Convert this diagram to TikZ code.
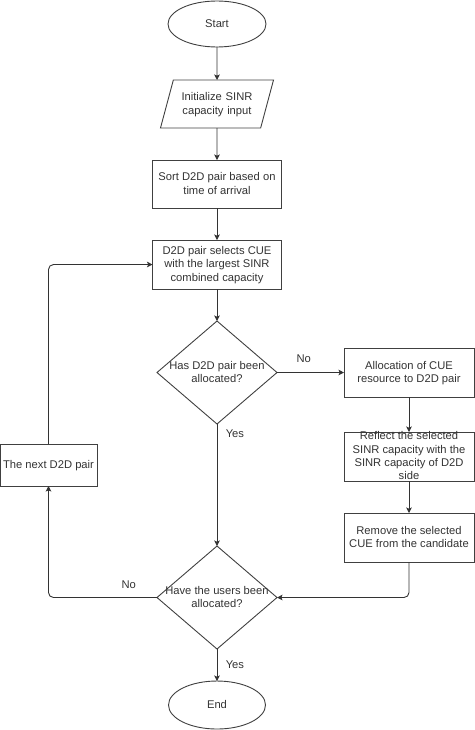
\documentclass[tikz,border=0pt]{standalone}
\usepackage{fontspec}
\setmainfont{Liberation Sans}
\usetikzlibrary{positioning,arrows.meta,shapes.geometric}

\newcommand{\boxtext}[1]{\makebox[0pt]{\smash{\raisebox{-3.5pt}{\begin{tabular}{@{}c@{}}#1\end{tabular}}}}}

\begin{document}
\begin{tikzpicture}[
  x=1pt, y=1pt,
  node distance=32pt,
  font=\fontsize{11.2}{13.3}\selectfont,
  every node/.style={text=black!80},
  shape box/.style={draw=black!75,line width=0.9pt,inner sep=0pt,outer sep=0pt},
  terminal/.style={shape box,ellipse,minimum width=98pt,minimum height=46pt},
  io/.style={shape box,trapezium,trapezium left angle=75,trapezium right angle=105,
    text width=87.3pt,align=center,text height=24pt,text depth=24pt},
  process/.style={shape box,rectangle,minimum width=129pt,minimum height=48pt},
  decision/.style={shape box,diamond,minimum width=120pt,minimum height=103pt},
  flow/.style={draw=black!80,line width=0.9pt,-{Stealth[length=5.5pt,width=5.5pt,inset=1.2pt]}},
  every edge/.style={flow},
]
  \useasboundingbox (0,0) rectangle (474,-730);

  % Main column
  \node[terminal] (start) at (217,-24) {\boxtext{Start}};
  \node[io,below=33pt of start] (init) {\boxtext{Initialize SINR\\capacity input}};
  \node[process,below=of init] (sort) {\boxtext{Sort D2D pair based on\\time of arrival}};
  \node[process,below=of sort,minimum height=49pt] (select) {\boxtext{D2D pair selects CUE\\with the largest SINR\\combined capacity}};
  \node[decision,below=of select] (allocated) {\boxtext{Has D2D pair been\\allocated?}};
  \node[decision,below=122pt of allocated] (users) {\boxtext{Have the users been\\allocated?}};
  \node[terminal,below=of users,minimum width=97pt,minimum height=48pt] (finish) {\boxtext{End}};

  % Right column
  \node[process,right=67pt of allocated,minimum width=130pt,minimum height=49pt] (assign) {\boxtext{Allocation of CUE\\resource to D2D pair}};
  \node[process,below=35pt of assign,minimum width=130pt,minimum height=49pt] (reflect) {\boxtext{Reflect the selected\\SINR capacity with the\\SINR capacity of D2D\\side}};
  \node[process,below=of reflect,minimum width=130pt,minimum height=49pt] (remove) {\boxtext{Remove the selected\\CUE from the candidate}};

  % Loop back
  \node[process,minimum width=97pt,minimum height=42pt] (next) at (48.5,-465) {\boxtext{The next D2D pair}};

  % Edges: main column
  \path (start) edge (init);
  \path (init) edge (sort);
  \path (sort) edge (select);
  \path (select) edge (allocated);
  \path (allocated) edge node[right=5pt,pos=0.08] {Yes} (users);
  \path (users) edge node[right=5pt] {Yes} (finish);

  % Edges: right column
  \path (allocated) edge node[above=6pt,pos=0.4] {No} (assign);
  \path (assign) edge (reflect);
  \path (reflect) edge (remove);
  \draw[flow,rounded corners=5pt] (remove.south) |- (users.east);

  % Edges: loop
  \draw[flow,rounded corners=5pt] (users.west) -| node[above=5pt,pos=0.13] {No} (next.south);
  \draw[flow,rounded corners=5pt] (next.north) |- (select.west);
\end{tikzpicture}
\end{document}
